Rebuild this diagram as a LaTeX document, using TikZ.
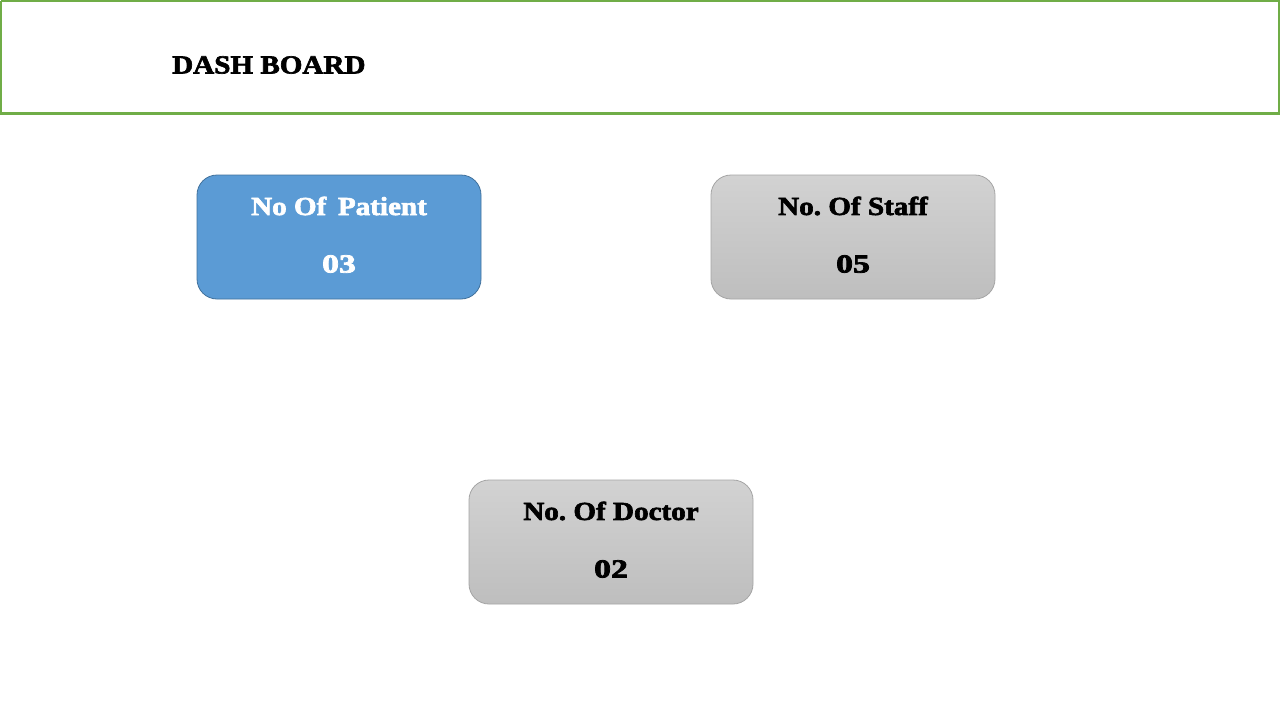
\documentclass[tikz,border=0pt]{standalone}
\usepackage{fontspec}
\setmainfont{Liberation Serif}[BoldFeatures={FakeBold=2.5,FakeStretch=1.12}]
\newfontfamily\digitfont{Liberation Serif}[BoldFeatures={FakeBold=3,FakeStretch=1.3}]
\definecolor{hdrgreen}{RGB}{112,173,71}
\definecolor{blueFill}{RGB}{91,155,213}
\definecolor{blueLine}{RGB}{65,113,156}
\definecolor{grayTop}{RGB}{210,210,210}
\definecolor{grayBot}{RGB}{190,190,190}
\definecolor{grayLine}{RGB}{165,165,165}
\frenchspacing
\tikzset{
  card/.style={rounded corners=20pt, minimum width=284pt, minimum height=124pt, line width=0.8pt, inner sep=0pt},
  bluecard/.style={card, fill=blueFill, draw=blueLine},
  graycard/.style={card, top color=grayTop, bottom color=grayBot, draw=grayLine},
  cardtext/.style={font=\fontsize{26}{30}\selectfont\bfseries, inner sep=0pt, anchor=center},
  numtext/.style={font=\digitfont\fontsize{26}{30}\selectfont\bfseries, inner sep=0pt, anchor=center},
  titletext/.style={font=\fontsize{26}{32}\selectfont\bfseries, inner sep=0pt, anchor=west}
}
\begin{document}
\begin{tikzpicture}[x=1pt,y=-1pt]
\useasboundingbox (0,0) rectangle (1280,720);
\fill[white] (0,0) rectangle (1280,720);
\draw[hdrgreen, line width=2pt] (1,1) -- (1279,1) -- (1279,113) (1,113) -- (1,1);
\draw[hdrgreen, line width=3pt] (0,113) -- (1280,113);
\node[titletext] (title) at (172,65) {DASH BOARD};

\node[bluecard] (patient) at (339,237) {};
\node[cardtext, text=white] (patientlbl) at (339,206) {No Of\, Patient};
\node[numtext, text=white] (patientnum) at (339,264) {03};

\node[graycard] (staff) at (853,237) {};
\node[cardtext] (stafflbl) at (853,206) {No. Of Staff};
\node[numtext] (staffnum) at (853,264) {05};

\node[graycard] (doctor) at (611,542) {};
\node[cardtext] (doctorlbl) at (611,511) {No. Of Doctor};
\node[numtext] (doctornum) at (611,569) {02};
\end{tikzpicture}
\end{document}
